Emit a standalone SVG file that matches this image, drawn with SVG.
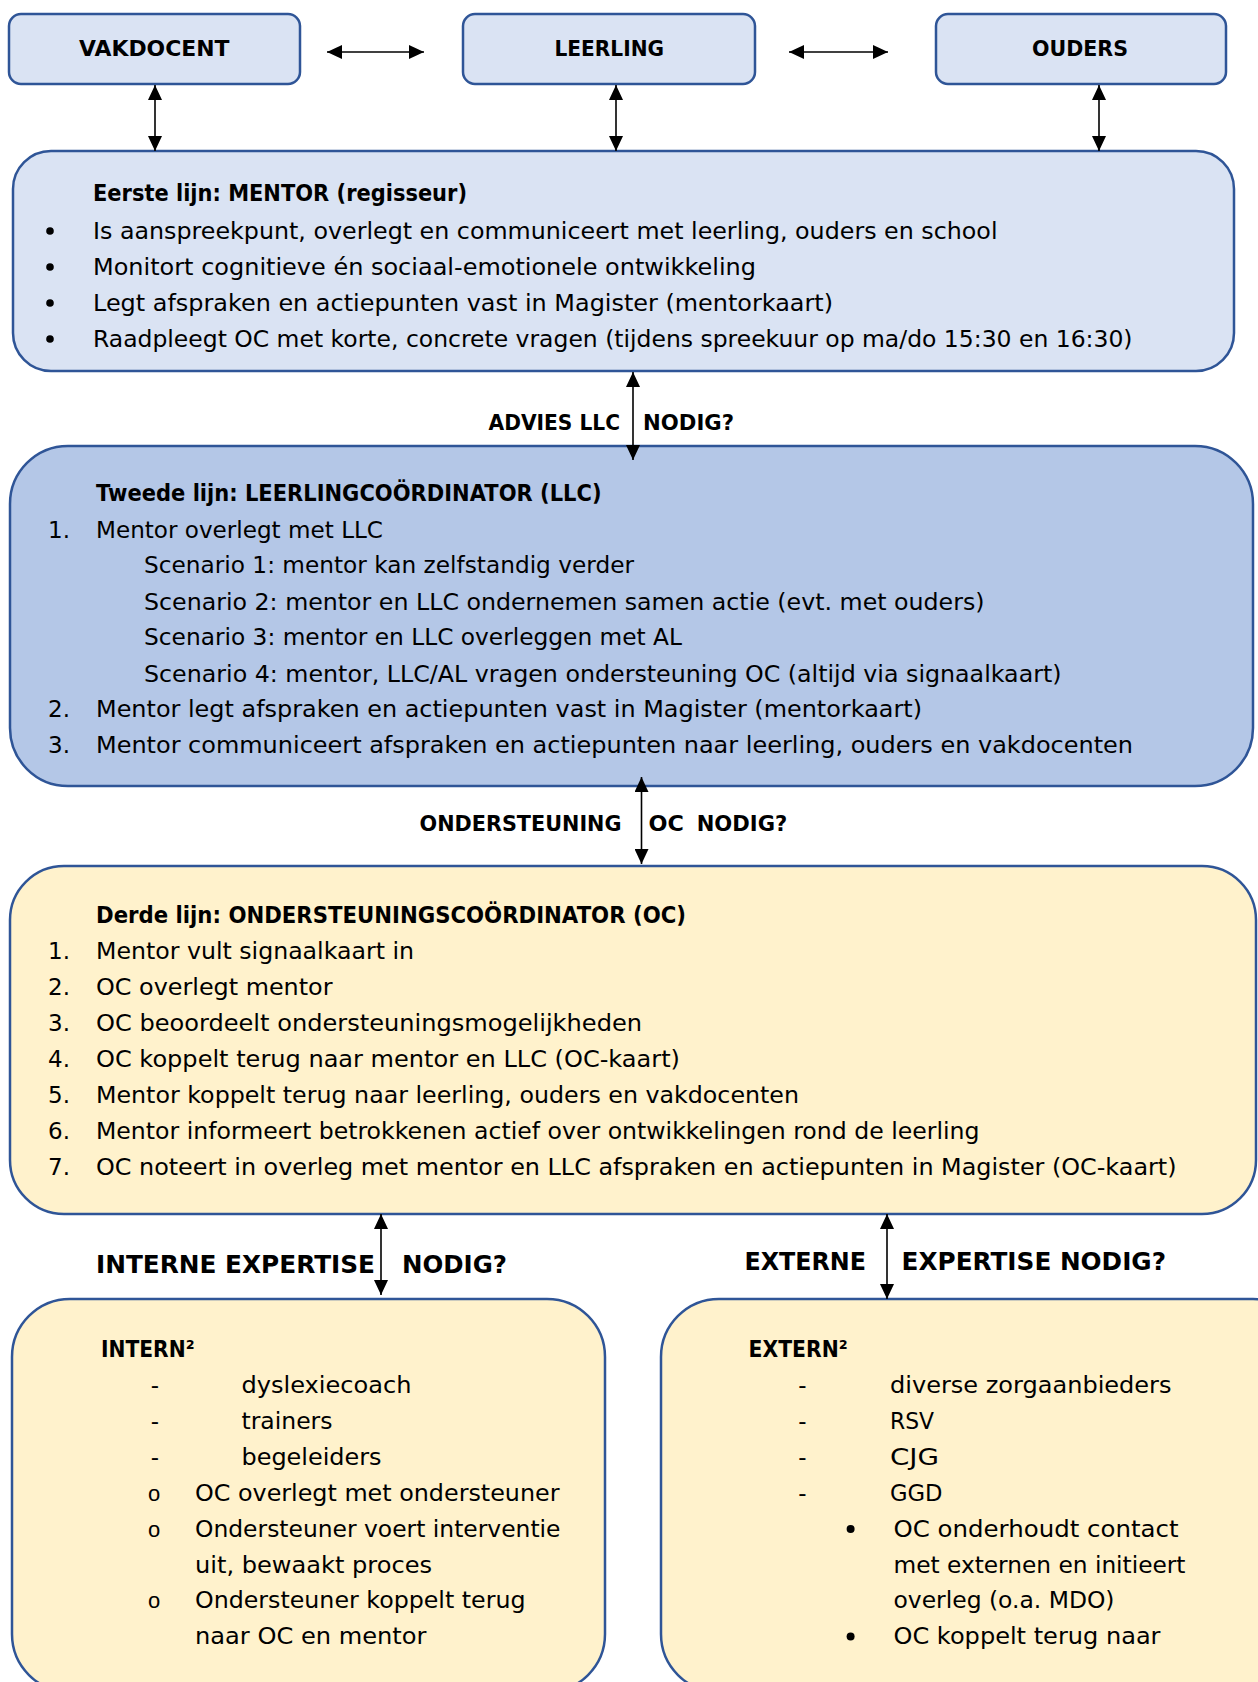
<svg xmlns="http://www.w3.org/2000/svg" width="1258" height="1682" viewBox="0 0 1258 1682">
<style>
.box{stroke:#2f5597;stroke-width:2.5}
.c1{fill:#dae3f3}
.c2{fill:#b4c7e7}
.c3{fill:#fff2cc}
.t{font-family:"DejaVu Sans","Liberation Sans",sans-serif;font-size:23px;fill:#000}
.h{font-family:"DejaVu Sans","Liberation Sans",sans-serif;font-size:23px;font-weight:bold;fill:#000}
.lb{font-family:"DejaVu Sans","Liberation Sans",sans-serif;font-size:22px;font-weight:bold;fill:#000}
.lv{font-family:"DejaVu Sans","Liberation Sans",sans-serif;font-size:24px;font-weight:bold;fill:#000}
.mk{font-family:"Liberation Sans",sans-serif;font-size:22px;fill:#000}
.ln{stroke:#000;stroke-width:1.6;fill:none;marker-start:url(#ah);marker-end:url(#ah)}
</style>
<defs>
<marker id="ah" viewBox="0 0 15 14" refX="15" refY="7" markerWidth="15" markerHeight="14" markerUnits="userSpaceOnUse" orient="auto-start-reverse"><path d="M0,0 L15,7 L0,14 z" fill="#000"/></marker>
</defs>
<rect width="1258" height="1682" fill="#fff"/>

<g id="vakdocent">
<rect class="box c1" x="9" y="14" width="291" height="70" rx="12"/>
<text class="lb" x="79" y="56" textLength="150.5" lengthAdjust="spacingAndGlyphs">VAKDOCENT</text>
</g>
<g id="leerling">
<rect class="box c1" x="463" y="14" width="292" height="70" rx="12"/>
<text class="lb" x="554.5" y="56" textLength="109.5" lengthAdjust="spacingAndGlyphs">LEERLING</text>
</g>
<g id="ouders">
<rect class="box c1" x="936" y="14" width="290" height="70" rx="12"/>
<text class="lb" x="1032" y="56" textLength="96" lengthAdjust="spacingAndGlyphs">OUDERS</text>
</g>

<g id="mentor">
<rect class="box c1" x="13" y="151" width="1221" height="220" rx="38"/>
<text class="h" x="93" y="200.5" textLength="374" lengthAdjust="spacingAndGlyphs">Eerste lijn: MENTOR (regisseur)</text>
<circle cx="50" cy="231" r="3.8"/>
<circle cx="50" cy="267" r="3.8"/>
<circle cx="50" cy="303" r="3.8"/>
<circle cx="50" cy="339" r="3.8"/>
<text class="t" x="93" y="239" textLength="904.5" lengthAdjust="spacingAndGlyphs">Is aanspreekpunt, overlegt en communiceert met leerling, ouders en school</text>
<text class="t" x="93" y="275" textLength="663" lengthAdjust="spacingAndGlyphs">Monitort cognitieve én sociaal-emotionele ontwikkeling</text>
<text class="t" x="93" y="311" textLength="740" lengthAdjust="spacingAndGlyphs">Legt afspraken en actiepunten vast in Magister (mentorkaart)</text>
<text class="t" x="93" y="347" textLength="1039.5" lengthAdjust="spacingAndGlyphs">Raadpleegt OC met korte, concrete vragen (tijdens spreekuur op ma/do 15:30 en 16:30)</text>
</g>

<g id="llc">
<rect class="box c2" x="10" y="446" width="1243" height="340" rx="58"/>
<text class="h" x="96" y="501" textLength="505.5" lengthAdjust="spacingAndGlyphs">Tweede lijn: LEERLINGCOÖRDINATOR (LLC)</text>
<text class="t" x="48" y="538">1.</text>
<text class="t" x="96" y="538" textLength="287" lengthAdjust="spacingAndGlyphs">Mentor overlegt met LLC</text>
<text class="t" x="144" y="573" textLength="490" lengthAdjust="spacingAndGlyphs">Scenario 1: mentor kan zelfstandig verder</text>
<text class="t" x="144" y="609.5" textLength="840.5" lengthAdjust="spacingAndGlyphs">Scenario 2: mentor en LLC ondernemen samen actie (evt. met ouders)</text>
<text class="t" x="144" y="645" textLength="538" lengthAdjust="spacingAndGlyphs">Scenario 3: mentor en LLC overleggen met AL</text>
<text class="t" x="144" y="681.5" textLength="917.5" lengthAdjust="spacingAndGlyphs">Scenario 4: mentor, LLC/AL vragen ondersteuning OC (altijd via signaalkaart)</text>
<text class="t" x="48" y="717">2.</text>
<text class="t" x="96" y="717" textLength="826" lengthAdjust="spacingAndGlyphs">Mentor legt afspraken en actiepunten vast in Magister (mentorkaart)</text>
<text class="t" x="48" y="753">3.</text>
<text class="t" x="96" y="753" textLength="1037" lengthAdjust="spacingAndGlyphs">Mentor communiceert afspraken en actiepunten naar leerling, ouders en vakdocenten</text>
</g>

<g id="oc">
<rect class="box c3" x="10" y="866" width="1246" height="348" rx="54"/>
<text class="h" x="96" y="922.5" textLength="590" lengthAdjust="spacingAndGlyphs">Derde lijn: ONDERSTEUNINGSCOÖRDINATOR (OC)</text>
<text class="t" x="48" y="959">1.</text>
<text class="t" x="96" y="959" textLength="318" lengthAdjust="spacingAndGlyphs">Mentor vult signaalkaart in</text>
<text class="t" x="48" y="995">2.</text>
<text class="t" x="96" y="995" textLength="236.5" lengthAdjust="spacingAndGlyphs">OC overlegt mentor</text>
<text class="t" x="48" y="1031">3.</text>
<text class="t" x="96" y="1031" textLength="546" lengthAdjust="spacingAndGlyphs">OC beoordeelt ondersteuningsmogelijkheden</text>
<text class="t" x="48" y="1067">4.</text>
<text class="t" x="96" y="1067" textLength="584" lengthAdjust="spacingAndGlyphs">OC koppelt terug naar mentor en LLC (OC-kaart)</text>
<text class="t" x="48" y="1103">5.</text>
<text class="t" x="96" y="1103" textLength="703" lengthAdjust="spacingAndGlyphs">Mentor koppelt terug naar leerling, ouders en vakdocenten</text>
<text class="t" x="48" y="1139">6.</text>
<text class="t" x="96" y="1139" textLength="883.5" lengthAdjust="spacingAndGlyphs">Mentor informeert betrokkenen actief over ontwikkelingen rond de leerling</text>
<text class="t" x="48" y="1175">7.</text>
<text class="t" x="96" y="1175" textLength="1080.5" lengthAdjust="spacingAndGlyphs">OC noteert in overleg met mentor en LLC afspraken en actiepunten in Magister (OC-kaart)</text>
</g>

<g id="intern">
<rect class="box c3" x="12" y="1299" width="593" height="393" rx="58"/>
<text class="h" x="101" y="1356.5" textLength="93.5" lengthAdjust="spacingAndGlyphs">INTERN²</text>
<text class="t" x="155" y="1392.5" text-anchor="middle">-</text>
<text class="t" x="241.5" y="1392.5" textLength="170" lengthAdjust="spacingAndGlyphs">dyslexiecoach</text>
<text class="t" x="155" y="1428.5" text-anchor="middle">-</text>
<text class="t" x="241.5" y="1428.5" textLength="91" lengthAdjust="spacingAndGlyphs">trainers</text>
<text class="t" x="155" y="1465" text-anchor="middle">-</text>
<text class="t" x="241.5" y="1465" textLength="140" lengthAdjust="spacingAndGlyphs">begeleiders</text>
<text class="mk" x="154" y="1501" text-anchor="middle">o</text>
<text class="t" x="195" y="1501" textLength="364.5" lengthAdjust="spacingAndGlyphs">OC overlegt met ondersteuner</text>
<text class="mk" x="154" y="1537" text-anchor="middle">o</text>
<text class="t" x="195" y="1536.5" textLength="365.5" lengthAdjust="spacingAndGlyphs">Ondersteuner voert interventie</text>
<text class="t" x="195" y="1572.5" textLength="237" lengthAdjust="spacingAndGlyphs">uit, bewaakt proces</text>
<text class="mk" x="154" y="1608" text-anchor="middle">o</text>
<text class="t" x="195" y="1608" textLength="330.5" lengthAdjust="spacingAndGlyphs">Ondersteuner koppelt terug</text>
<text class="t" x="195" y="1644" textLength="231.5" lengthAdjust="spacingAndGlyphs">naar OC en mentor</text>
</g>

<g id="extern">
<rect class="box c3" x="661" y="1299" width="650" height="393" rx="58"/>
<text class="h" x="748.6" y="1356.5" textLength="99" lengthAdjust="spacingAndGlyphs">EXTERN²</text>
<text class="t" x="802.5" y="1392.5" text-anchor="middle">-</text>
<text class="t" x="890" y="1392.5" textLength="281.5" lengthAdjust="spacingAndGlyphs">diverse zorgaanbieders</text>
<text class="t" x="802.5" y="1428.5" text-anchor="middle">-</text>
<text class="t" x="890" y="1428.5" textLength="44" lengthAdjust="spacingAndGlyphs">RSV</text>
<text class="t" x="802.5" y="1465" text-anchor="middle">-</text>
<text class="t" x="890" y="1465" textLength="49" lengthAdjust="spacingAndGlyphs">CJG</text>
<text class="t" x="802.5" y="1501" text-anchor="middle">-</text>
<text class="t" x="890" y="1501" textLength="52.5" lengthAdjust="spacingAndGlyphs">GGD</text>
<circle cx="850.6" cy="1529" r="4"/>
<text class="t" x="893.5" y="1536.5" textLength="285" lengthAdjust="spacingAndGlyphs">OC onderhoudt contact</text>
<text class="t" x="893.5" y="1572.5" textLength="292" lengthAdjust="spacingAndGlyphs">met externen en initieert</text>
<text class="t" x="893.5" y="1608" textLength="221" lengthAdjust="spacingAndGlyphs">overleg (o.a. MDO)</text>
<circle cx="850.6" cy="1636.5" r="4"/>
<text class="t" x="893.5" y="1644" textLength="267" lengthAdjust="spacingAndGlyphs">OC koppelt terug naar</text>
</g>

<g id="connectors">
<line class="ln" x1="327" y1="52" x2="424" y2="52"/>
<line class="ln" x1="789" y1="52" x2="888" y2="52"/>
<line class="ln" x1="155" y1="85" x2="155" y2="151"/>
<line class="ln" x1="616" y1="85" x2="616" y2="151"/>
<line class="ln" x1="1099" y1="85" x2="1099" y2="151"/>
<line class="ln" x1="633" y1="372" x2="633" y2="460"/>
<line class="ln" x1="641.5" y1="777" x2="641.5" y2="864"/>
<line class="ln" x1="381" y1="1214" x2="381" y2="1295"/>
<line class="ln" x1="887" y1="1214" x2="887" y2="1299"/>
<text class="lb" x="488.5" y="430" textLength="131.5" lengthAdjust="spacingAndGlyphs">ADVIES LLC</text>
<text class="lb" x="643" y="430" textLength="91" lengthAdjust="spacingAndGlyphs">NODIG?</text>
<text class="lb" x="419.5" y="830.5" textLength="202" lengthAdjust="spacingAndGlyphs">ONDERSTEUNING</text>
<text class="lb" y="830.5"><tspan x="648.6" textLength="35.4" lengthAdjust="spacingAndGlyphs">OC</tspan><tspan x="696.7" textLength="90.5" lengthAdjust="spacingAndGlyphs">NODIG?</tspan></text>
<text class="lv" x="96" y="1272.5" textLength="279" lengthAdjust="spacingAndGlyphs">INTERNE EXPERTISE</text>
<text class="lv" x="402" y="1272.5" textLength="105" lengthAdjust="spacingAndGlyphs">NODIG?</text>
<text class="lv" x="744.5" y="1269.5" textLength="121.5" lengthAdjust="spacingAndGlyphs">EXTERNE</text>
<text class="lv" x="901.6" y="1269.5" textLength="264.4" lengthAdjust="spacingAndGlyphs">EXPERTISE NODIG?</text>
</g>
</svg>
